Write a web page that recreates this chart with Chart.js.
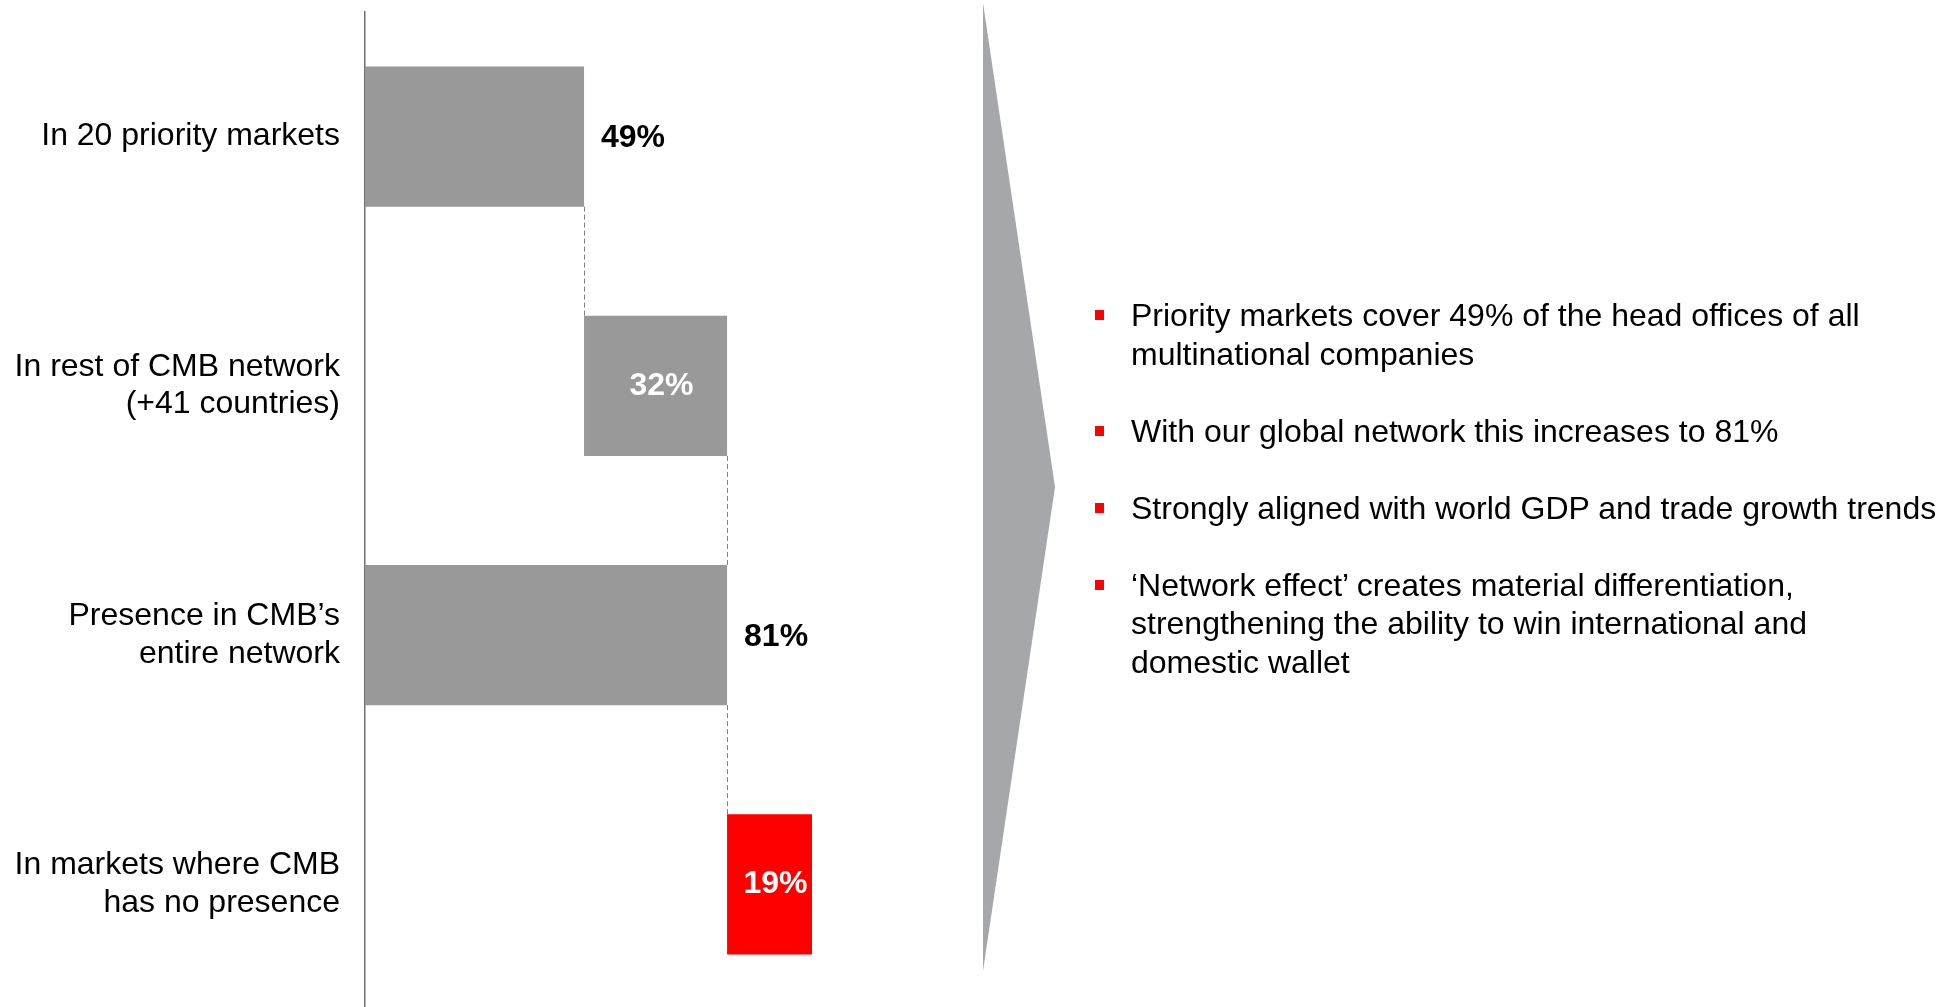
<!DOCTYPE html>
<html>
<head>
<meta charset="utf-8">
<script src="https://cdn.jsdelivr.net/npm/chart.js@4"></script>
<style>
    html, body { margin: 0; padding: 0; background: #fff; overflow: hidden; }
    body { width: 1955px; height: 1007px; position: relative; font-family: "Liberation Sans", Arial, sans-serif; }
    #wrap { position: absolute; left: 0; top: 0; width: 1955px; height: 1009px; }
    #arrow {
        position: absolute; left: 983px; top: 3px; width: 72px; height: 968px;
        background: #a6a7ab;
        clip-path: polygon(0 0, 100% 50%, 0 100%);
    }
    #notes {
        position: absolute; left: 1131px; top: 296px; margin: 0; padding: 0;
        list-style: none; font-size: 32px; line-height: 38.5px; color: #000;
        white-space: nowrap;
    }
    #notes li { position: relative; margin-bottom: 38.5px; }
    #notes li::before {
        content: ''; position: absolute; left: -36px; top: 14px;
        width: 9px; height: 10px; background: #ff0000;
    }
</style>
</head>
<body>
<div id="wrap"><canvas id="waterfall"></canvas></div>
<div id="arrow"></div>
<ul id="notes">
    <li>Priority markets cover 49% of the head offices of all<br>multinational companies</li>
    <li>With our global network this increases to 81%</li>
    <li>Strongly aligned with world GDP and trade growth trends</li>
    <li>‘Network effect’ creates material differentiation,<br>strengthening the ability to win international and<br>domestic wallet</li>
</ul>
<script>
// ── data ─────────────────────────────────────────────
var categories = [
    ['In 20 priority markets'],
    ['In rest of CMB network', '(+41 countries)'],
    ['Presence in CMB’s', 'entire network'],
    ['In markets where CMB', 'has no presence']
];
var values     = [49, 32, 81, 19];
var starts     = [0, 49, 0, 81];
var valueLabels = ['49%', '32%', '81%', '19%'];

var barColors   = ['#999999', '#999999', '#999999', '#ff0000'];
var labelInside = [false, true, false, true];

var floating = values.map(function (v, i) { return [starts[i], starts[i] + v]; });

Chart.defaults.font.family = '"Liberation Sans", Arial, sans-serif';

// dashed connectors + value labels
var waterfallExtras = {
    id: 'waterfallExtras',
    afterDatasetsDraw: function (chart) {
        var ctx  = chart.ctx;
        var meta = chart.getDatasetMeta(0);
        var xs   = chart.scales.x;

        ctx.save();
        ctx.strokeStyle = '#808080';
        ctx.lineWidth = 1;
        ctx.setLineDash([5, 3]);
        for (var i = 0; i < meta.data.length - 1; i++) {
            var a = meta.data[i], b = meta.data[i + 1];
            var x = Math.round(xs.getPixelForValue(floating[i][1])) + 0.5;
            ctx.beginPath();
            ctx.moveTo(x, a.y + a.height / 2);
            ctx.lineTo(x, b.y - b.height / 2);
            ctx.stroke();
        }
        ctx.setLineDash([]);

        ctx.font = 'bold 32px "Liberation Sans", Arial, sans-serif';
        ctx.textBaseline = 'middle';
        meta.data.forEach(function (bar, i) {
            if (labelInside[i]) {
                ctx.fillStyle = '#ffffff';
                ctx.textAlign = 'center';
                var cx = (xs.getPixelForValue(floating[i][0]) + xs.getPixelForValue(floating[i][1])) / 2;
                ctx.fillText(valueLabels[i], cx + 6, bar.y);
            } else {
                ctx.fillStyle = '#000000';
                ctx.textAlign = 'left';
                ctx.fillText(valueLabels[i], xs.getPixelForValue(floating[i][1]) + 17, bar.y + 2);
            }
        });
        ctx.restore();
    }
};

new Chart(document.getElementById('waterfall'), {
    type: 'bar',
    data: {
        labels: categories,
        datasets: [{
            data: floating,
            backgroundColor: barColors,
            borderWidth: 0,
            categoryPercentage: 1,
            barPercentage: 0.562
        }]
    },
    options: {
        indexAxis: 'y',
        responsive: true,
        maintainAspectRatio: false,
        animation: false,
        layout: { padding: { top: 12, right: 1143, bottom: 0, left: 0 } },
        plugins: {
            legend:  { display: false },
            tooltip: { enabled: false }
        },
        scales: {
            x: { display: false, min: 0, max: 100 },
            y: {
                grid:   { display: false, drawTicks: false },
                border: { display: true, color: '#707070', width: 1.5 },
                ticks:  {
                    color: '#000000',
                    padding: 25,
                    font: { size: 32, lineHeight: 1.17 }
                },
                afterFit: function (scale) {
                    scale.width = 365;
                    scale.paddingTop = 0;
                    scale.paddingBottom = 0;
                }
            }
        }
    },
    plugins: [waterfallExtras]
});
</script>
</body>
</html>
